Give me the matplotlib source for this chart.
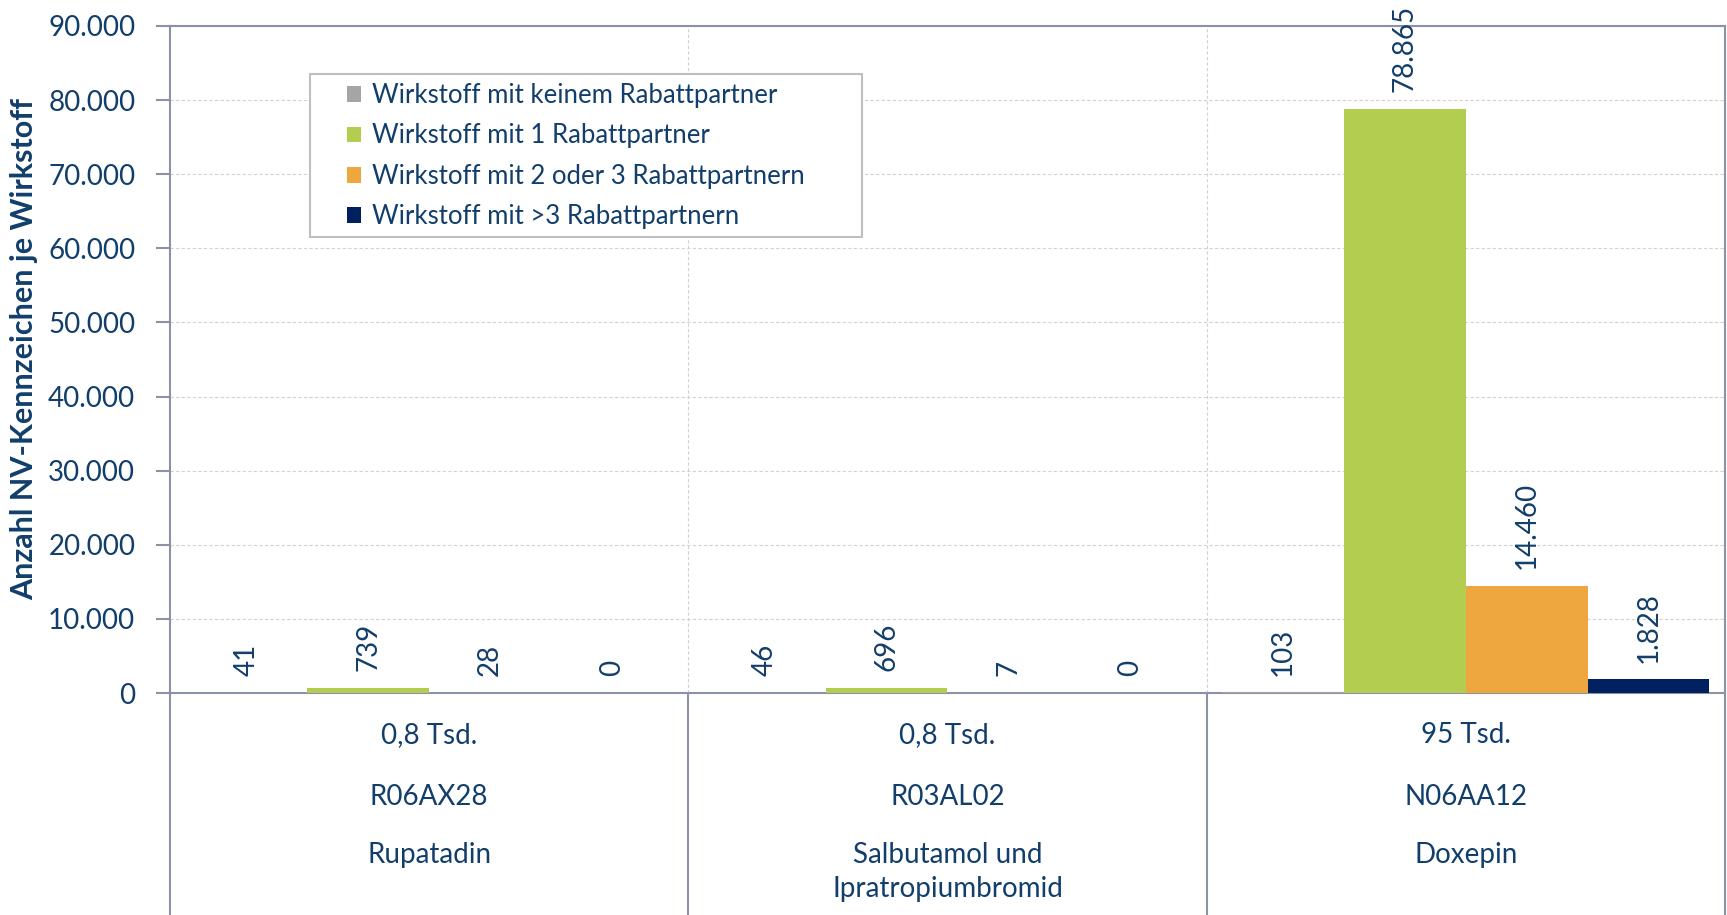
import matplotlib
matplotlib.use("Agg")
import matplotlib.pyplot as plt
from matplotlib.patches import Patch, Rectangle
import numpy as np

plt.rcParams['font.family'] = ['Lato', 'DejaVu Sans']

# Daten
wirkstoffe = ["Rupatadin", "Salbutamol und\nIpratropiumbromid", "Doxepin"]
atc_codes = ["R06AX28", "R03AL02", "N06AA12"]
summen = ["0,8 Tsd.", "0,8 Tsd.", "95 Tsd."]
serien = ["Wirkstoff mit keinem Rabattpartner",
          "Wirkstoff mit 1 Rabattpartner",
          "Wirkstoff mit 2 oder 3 Rabattpartnern",
          "Wirkstoff mit >3 Rabattpartnern"]
keine = [41, 46, 103]
eins = [739, 696, 78865]
zwei_drei = [28, 7, 14460]
mehr_drei = [0, 0, 1828]
yticks = [0, 10000, 20000, 30000, 40000, 50000, 60000, 70000, 80000, 90000]

farben = ['#A5A5A5', '#B3CD50', '#EDA73E', '#00205F']
textfarbe = '#123E6B'
achsfarbe = '#8B92A6'
gridfarbe = '#D6D1CB'

W, H = 1727, 915
fig = plt.figure(figsize=(W / 100, H / 100), dpi=100)
left, right, top, zero = 170, 1725, 26, 693
ax = fig.add_axes([left / W, (H - zero) / H, (right - left) / W, (zero - top) / H])
ax_h = zero - top

x = np.arange(len(wirkstoffe))
bw = 0.235
for j, (werte, farbe) in enumerate(zip([keine, eins, zwei_drei, mehr_drei], farben)):
    pos = x + (j - 1.5) * bw
    ax.bar(pos, werte, width=bw, color=farbe, zorder=3)
    for p, v in zip(pos, werte):
        ax.annotate(f"{v:,}".replace(",", "."), (p, v), xytext=(0, 12),
                    textcoords='offset points', rotation=90, ha='center',
                    va='bottom', fontsize=20, color=textfarbe, zorder=4)

ax.set_xlim(-0.5, len(wirkstoffe) - 0.5)
ax.set_ylim(0, 90000)
ax.set_yticks(yticks)
ax.set_yticklabels([f"{v:,}".replace(",", ".") for v in yticks],
                   fontsize=20, color=textfarbe)
ax.tick_params(axis='y', length=10, width=1.5, color=achsfarbe, pad=15)
ax.set_xticks([])
for s in ax.spines.values():
    s.set_color(achsfarbe)
    s.set_linewidth(1.5)
ax.grid(axis='y', color=gridfarbe, linestyle=(0, (3, 2)), linewidth=0.8, zorder=0)
for xv in x[:-1] + 0.5:
    ax.axvline(xv, color=gridfarbe, linestyle=(0, (3, 2)), linewidth=0.8, zorder=0)

# Tabelle unter der Achse
trans = ax.get_xaxis_transform()
tab_unten = -(H - zero) / ax_h
for xv in np.arange(len(wirkstoffe) + 1) - 0.5:
    ax.plot([xv, xv], [0, tab_unten], transform=trans, color=achsfarbe,
            linewidth=1.5, clip_on=False)


def yax(px):
    return -(px - zero) / ax_h


for i in range(len(wirkstoffe)):
    ax.text(x[i], yax(735), summen[i], transform=trans, ha='center', va='center',
            fontsize=20, color=textfarbe)
    ax.text(x[i], yax(797), atc_codes[i], transform=trans, ha='center', va='center',
            fontsize=20, color=textfarbe)
    ax.text(x[i], yax(842), wirkstoffe[i], transform=trans, ha='center', va='top',
            fontsize=20, color=textfarbe, linespacing=1.4)

fig.text(24 / W, 1 - 349 / H, "Anzahl NV-Kennzeichen je Wirkstoff", rotation=90,
         ha='center', va='center', fontsize=22, fontweight='bold', color=textfarbe)

# Legende mit eigenem Rahmen
fig.patches.append(Rectangle((310 / W, 1 - 237 / H), (862 - 310) / W, (237 - 74) / H,
                             transform=fig.transFigure, facecolor='white',
                             edgecolor='#BFBFBF', linewidth=1.5, zorder=5))
handles = [Patch(facecolor=f, edgecolor='none') for f in farben]
leg = fig.legend(handles, serien, loc='upper left',
                 bbox_to_anchor=(347 / W, 1 - 83 / H), fontsize=18.5,
                 labelcolor=textfarbe, frameon=False,
                 handlelength=0.56, handleheight=0.56, handletextpad=0.42,
                 labelspacing=0.6, borderpad=0, borderaxespad=0)
leg.set_zorder(6)

fig.savefig("out.png", dpi=100)
